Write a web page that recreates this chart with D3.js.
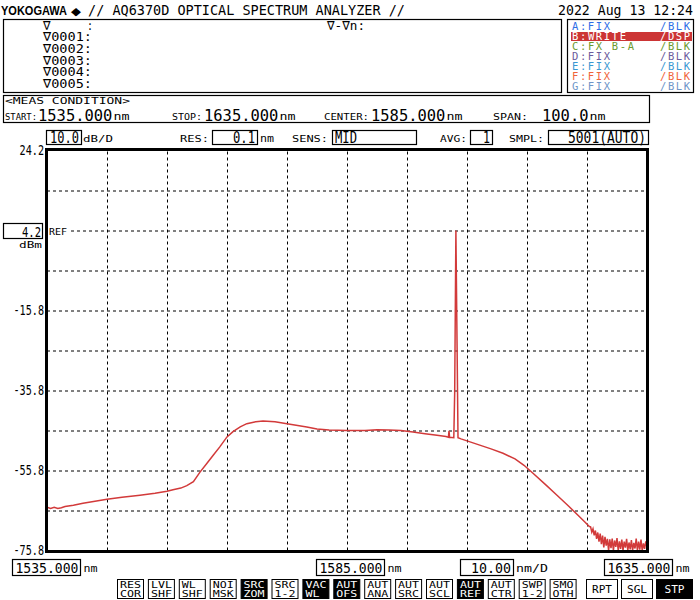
<!DOCTYPE html>
<html><head><meta charset="utf-8">
<script src="https://cdn.jsdelivr.net/npm/d3@7"></script>
<style>
body{margin:0;background:#fff}
text{font-family:"DejaVu Sans Mono",monospace}
</style>
</head><body><svg id="c" width="700" height="600"></svg>
<script>
// ---------- data ----------
const wavelengths = [
 1535.0,1535.6,1536.2,1536.8,1537.4,1538.0,1539.4,1541.0,1543.0,1545.0,
 1547.5,1550.5,1553.0,1555.0,1556.0,1557.3,1558.3,1559.4,1560.5,1561.6,
 1562.7,1563.8,1565.0,1566.0,1567.2,1568.3,1569.8,1571.0,1573.0,1575.0,
 1578.3,1580.0,1582.0,1585.0,1588.0,1590.0,1592.0,1594.0,1596.0,1598.0,
 1600.0,1601.5,1601.9,1602.0,1602.1,1602.8,1602.95,1603.15,1603.35,1603.5,
 1604.0,1605.0,1607.0,1609.0,1611.0,1613.0,1614.5,1616.0,1618.0,1620.0,
 1622.0,1623.5,1624.6,1625.4,
 1625.6,1625.8,1626.0,1626.2,1626.4,1626.6,1626.8,1627.0,1627.2,1627.4,
 1627.6,1627.8,1628.0,1628.2,1628.4,1628.6,1628.8,1629.0,1629.2,1629.4,
 1629.6,1629.8,1630.0,1630.2,1630.4,1630.6,1630.8,1631.0,1631.2,1631.4,
 1631.6,1631.8,1632.0,1632.2,1632.4,1632.6,1632.8,1633.0,1633.2,1633.4,
 1633.6,1633.8,1634.0,1634.2,1634.4,1634.6,1634.8,1635.0
];
const powers = [
 -65.0,-65.3,-65.0,-65.3,-65.1,-64.8,-64.5,-64.0,-63.5,-63.0,
 -62.5,-62.0,-61.5,-61.0,-60.6,-60.2,-59.6,-58.6,-56.2,-54.1,
 -52.0,-49.9,-47.4,-46.1,-44.9,-44.1,-43.6,-43.4,-43.6,-44.1,
 -44.9,-45.4,-45.7,-45.8,-45.8,-45.6,-45.7,-45.8,-46.2,-46.6,
 -47.0,-47.3,-47.5,-45.9,-47.5,-47.6,-36.1,4.2,-25.2,-47.6,
 -47.9,-48.4,-49.4,-50.4,-51.5,-52.9,-54.5,-56.5,-59.2,-62.0,
 -64.8,-67.0,-68.6,-69.8,
 -69.9,-71.2,-70.4,-72.0,-70.8,-72.9,-71.3,-73.6,-71.6,-74.2,
 -72.1,-75.0,-72.4,-74.6,-72.9,-75.8,-73.0,-75.2,-72.8,-75.8,
 -73.3,-74.9,-72.7,-75.8,-73.5,-75.4,-73.1,-75.8,-73.6,-75.1,
 -72.9,-75.8,-73.8,-75.5,-73.2,-75.8,-73.9,-75.3,-72.8,-75.8,
 -73.6,-75.6,-73.1,-75.8,-74.0,-75.4,-73.5,-75.0
];
const yTickValues = [24.2, -15.8, -35.8, -55.8, -75.8];
const refLevel = 4.2;
const xGridValues = [1545,1555,1565,1575,1585,1595,1605,1615,1625];
const yGridValues = [14.2,4.2,-5.8,-15.8,-25.8,-35.8,-45.8,-55.8,-65.8];
const xLabels = ["1535.000","1585.000","1635.000"];
const traceNames = ["A:FIX","B:WRITE","C:FX B-A","D:FIX","E:FIX","F:FIX","G:FIX"];
const traceModes = ["/BLK","/DSP","/BLK","/BLK","/BLK","/BLK","/BLK"];
const traceColors = ["#2d6ee6","#ffffff","#6c9a2e","#6b5c9c","#3a98d2","#f0643a","#6e95c8"];
const markerRows = ["∇0001","∇0002","∇0003","∇0004","∇0005"];
const btnTop = ["RES","LVL","WL","NOI","SRC","SRC","VAC","AUT","AUT","AUT","AUT","AUT","AUT","SWP","SMO"];
const btnBot = ["COR","SHF","SHF","MSK","ZOM","1-2","WL","OFS","ANA","SRC","SCL","REF","CTR","1-2","OTH"];
const btnDark = [0,0,0,0,1,0,1,1,0,0,0,1,0,0,0];
const sideBtns = ["RPT","SGL","STP"];
const sideDark = [0,0,1];

// ---------- helpers ----------
const svg = d3.select("#c");
svg.append("rect").attr("width",700).attr("height",600).attr("fill","#fff");
// text placed by its left edge; if o.right is set, x is the right edge
function T(g,x,y,s,o={}){
  const w=o.w;
  const x0 = (o.right && w) ? x-w : x;
  const t=g.append("text").attr("x",x0).attr("y",y).text(s)
    .attr("font-size",o.fs||12).attr("fill",o.fill||"#000");
  if(o.anchor) t.attr("text-anchor",o.anchor);
  if(w) t.attr("textLength",w).attr("lengthAdjust",o.adj||"spacingAndGlyphs");
  if(o.family) t.style("font-family",o.family);
  if(o.weight) t.attr("font-weight",o.weight);
  return t;
}
function box(x,y,w,h,o={}){
  return svg.append("rect").attr("x",x).attr("y",y).attr("width",w).attr("height",h)
   .attr("fill",o.fill||"none").attr("stroke",o.stroke||"#000").attr("stroke-width",o.sw||1.2);
}

// ---------- header ----------
T(svg,1,15,"YOKOGAWA",{fs:12.5,w:66,family:"Liberation Sans",weight:"bold"});
T(svg,71,15,"◆",{fs:11,w:10,family:"DejaVu Sans"});
T(svg,88,15,"// AQ6370D OPTICAL SPECTRUM ANALYZER //",{fs:13.5,w:317});
T(svg,693,15,"2022 Aug 13 12:24",{fs:13.5,w:135,right:true});

box(3.5,19.5,558,73);
T(svg,43,29.5,"∇",{fs:12.5});
T(svg,87,29.5,":",{fs:12.5,w:6});
markerRows.forEach((r,i)=>{
  T(svg,43,41+i*11.8,r+":",{fs:12.5,w:49});
});
T(svg,327,29.5,"∇-∇n:",{fs:12.5,w:38});

box(567.5,19.5,126,73);
svg.append("rect").attr("x",571).attr("y",32).attr("width",121).attr("height",9).attr("fill","#cc3535");
traceNames.forEach((n,i)=>{
  const yy=30+i*10;
  T(svg,572,yy,n,{fs:10.5,w:n.length*8-2,adj:"spacing",fill:traceColors[i]});
  T(svg,690,yy,traceModes[i],{fs:10.5,w:30,adj:"spacing",fill:traceColors[i],right:true});
});

// ---------- measure condition ----------
box(3.5,95.5,646,27);
T(svg,5,104,"<MEAS CONDITION>",{fs:9.5,w:125});
const mc=[["START:",5,32,"1535.000",38],["STOP:",172,30,"1635.000",204],["CENTER:",324,45,"1585.000",371],["SPAN:",493,35,"100.0",542]];
mc.forEach(([l,lx,lw,v,vx])=>{
  T(svg,lx,120,l,{fs:9.5,w:lw});
  T(svg,vx,120.5,v,{fs:15,w:v.length*9.3});
  T(svg,vx+v.length*9.3+1,120,"nm",{fs:11,w:16});
});

// ---------- settings row ----------
box(46.5,130.5,35,14);
T(svg,79,143,"10.0",{fs:15,w:29,right:true});
T(svg,83,142,"dB/D",{fs:9.5,w:30});
T(svg,180,142,"RES:",{fs:9.5,w:29});
box(212.5,130.5,45,14);
T(svg,255,143,"0.1",{fs:15,w:22,right:true});
T(svg,260,142,"nm",{fs:10,w:14});
T(svg,292,142,"SENS:",{fs:9.5,w:36});
box(332.5,130.5,84,14);
T(svg,335,143,"MID",{fs:15,w:22});
T(svg,440,142,"AVG:",{fs:9.5,w:27});
box(470.5,130.5,22,14);
T(svg,490,143,"1",{fs:15,w:7,right:true});
T(svg,509,142,"SMPL:",{fs:9.5,w:35});
box(548.5,130.5,100,14);
T(svg,646,143,"5001(AUTO)",{fs:15,w:78,right:true});

// ---------- plot ----------
const L=47,R=647,Tp=150.5,B=550.5;
const x=d3.scaleLinear().domain([1535,1635]).range([L,R]);
const y=d3.scaleLinear().domain([-75.8,24.2]).range([B,Tp]);

const gx=svg.append("g").attr("transform",`translate(0,${B})`)
  .call(d3.axisBottom(x).tickValues(xGridValues).tickSize(-(B-Tp)).tickFormat(""));
gx.select(".domain").remove();
gx.selectAll("line").attr("stroke","#000").attr("stroke-dasharray","3,3");
const gy=svg.append("g").attr("transform",`translate(${L},0)`)
  .call(d3.axisLeft(y).tickValues(yGridValues).tickSize(-(R-L)).tickFormat(""));
gy.select(".domain").remove();
gy.selectAll("line").attr("stroke","#000").attr("stroke-dasharray","3,3");

// y labels
const gl=svg.append("g").attr("transform",`translate(44,0)`)
  .call(d3.axisLeft(y).tickValues(yTickValues).tickSize(0).tickPadding(0).tickFormat(d=>d.toFixed(1)));
gl.select(".domain").remove();
gl.selectAll("text").attr("font-size",14).attr("fill","#000")
  .style("font-family","DejaVu Sans Mono")
  .attr("textLength",function(d){return d.toFixed(1).length*6.1;})
  .attr("lengthAdjust","spacingAndGlyphs");

// REF box
box(3.5,y(refLevel)-7,39,15);
T(svg,41,y(refLevel)+6,refLevel.toFixed(1),{fs:14,w:19,right:true});
T(svg,42,y(refLevel)+17,"dBm",{fs:9.5,w:23,right:true});
svg.append("rect").attr("x",48).attr("y",y(refLevel)-6).attr("width",20).attr("height",10).attr("fill","#fff");
T(svg,49,y(refLevel)+4,"REF",{fs:9.5,w:18});

// trace
svg.append("clipPath").attr("id","clp").append("rect").attr("x",L).attr("y",Tp).attr("width",R-L).attr("height",B-Tp+1);
const pts=wavelengths.map((w,i)=>[w,powers[i]]);
svg.append("path").attr("clip-path","url(#clp)")
  .attr("d",d3.line().x(d=>x(d[0])).y(d=>y(d[1]))(pts))
  .attr("fill","none").attr("stroke","#d23a3a").attr("stroke-width",1.5).attr("stroke-linejoin","miter");

// border
svg.append("rect").attr("x",L-0.5).attr("y",Tp-1).attr("width",R-L+1).attr("height",B-Tp+2)
  .attr("fill","none").attr("stroke","#000").attr("stroke-width",3);

// x labels
const xl=[[12.5,68,"nm"],[316.5,68,"nm"],[604.5,68,"nm"]];
xLabels.forEach((s,i)=>{
  const [bx,bw,u]=xl[i];
  box(bx,559.5,bw,16);
  T(svg,bx+bw-2,573,s,{fs:13.5,w:63,right:true});
  T(svg,bx+bw+3,572,u,{fs:10,w:14});
});
box(460.5,559.5,53,16);
T(svg,511,573,"10.00",{fs:13.5,w:40,right:true});
T(svg,516,572,"nm/D",{fs:10,w:32});

// buttons
btnTop.forEach((t,i)=>{
  const bx=117+i*30.9;
  const dark=btnDark[i];
  box(bx+0.5,579.5,26,19,{fill:dark?"#000":"#fff",sw:1});
  T(svg,bx+3,588,t,{fs:8.5,w:t.length*7,fill:dark?"#fff":"#000"});
  T(svg,bx+3,597,btnBot[i],{fs:8.5,w:btnBot[i].length*7,fill:dark?"#fff":"#000"});
});
const sx=[586,621,656], sw=[31,31,36];
sideBtns.forEach((t,i)=>{
  box(sx[i]+0.5,579.5,sw[i],19,{fill:sideDark[i]?"#000":"#fff",sw:1});
  T(svg,sx[i]+sw[i]/2+0.5-10,593,t,{fs:10.5,w:20,fill:sideDark[i]?"#fff":"#000"});
});
</script>
</body></html>
